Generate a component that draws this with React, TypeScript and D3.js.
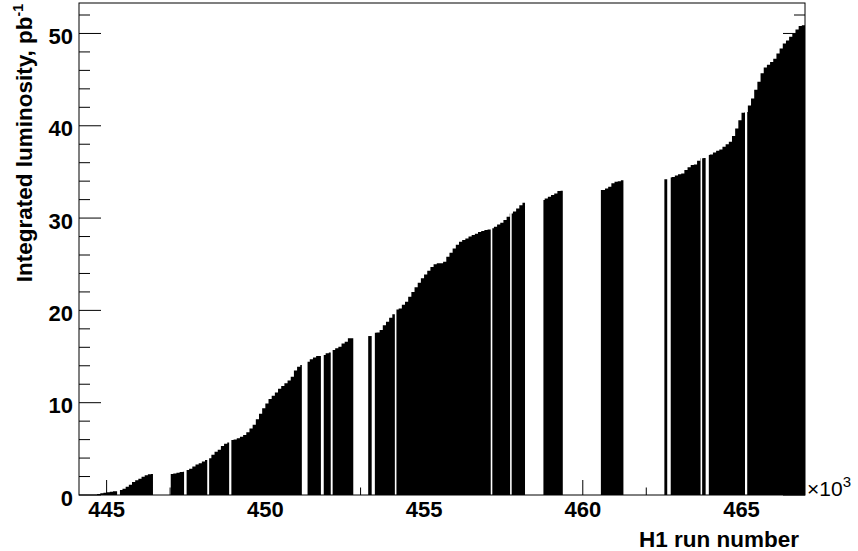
import React from 'react';
import * as d3 from 'd3';

// ---- data ----
const binStart = 444.1; // thousands of runs
const binWidth = 0.1;   // 100 runs per bin
const lumi: number[] = [
  0, 0, 0, 0, 0, 0, 0.12, 0.18, 0.25, 0.3, 0.36, 0.4, 0.4, 0.54, 0.69, 0.9, 1.12, 1.4, 1.6, 1.77,
  1.98, 2.15, 2.25, 2.27, 0, 0, 0, 0, 0, 2.27, 2.33, 2.42, 2.5, 2.53, 2.71, 2.85, 3.1, 3.3, 3.45, 3.62,
  3.79, 3.97, 4.35, 4.69, 4.9, 5.3, 5.55, 5.7, 5.96, 6.0, 6.14, 6.3, 6.5, 6.8, 7.2, 7.6, 8.2, 8.8, 9.4, 9.9,
  10.4, 10.75, 11.1, 11.5, 11.8, 12.1, 12.4, 12.8, 13.5, 13.9, 14.08, 0, 14.44, 14.7, 14.9, 15.05, 15.05, 15.16, 15.35, 15.45,
  15.7, 15.9, 16.06, 16.4, 16.6, 16.97, 16.97, 0, 0, 0, 0, 17.22, 17.22, 17.58, 17.6, 17.87, 18.4, 18.77, 19.2, 19.57,
  20.1, 20.2, 20.6, 20.94, 21.48, 22.0, 22.5, 23.0, 23.47, 23.9, 24.3, 24.7, 25.0, 25.1, 25.1, 25.27, 25.8, 26.25, 26.7, 27.1,
  27.43, 27.62, 27.8, 28.0, 28.16, 28.3, 28.5, 28.6, 28.7, 28.77, 28.9, 29.06, 29.3, 29.5, 29.78, 30.14, 30.5, 30.7, 31.05, 31.4,
  31.66, 0, 0, 0, 0, 0, 31.95, 32.13, 32.3, 32.5, 32.67, 32.93, 32.96, 0, 0, 0, 0, 0, 0, 0,
  0, 0, 0, 0, 33.03, 33.03, 33.2, 33.4, 33.76, 33.93, 34.0, 34.1, 0, 0, 0, 0, 0, 0, 0, 0,
  0, 0, 0, 0, 34.2, 34.2, 34.4, 34.45, 34.6, 34.75, 34.84, 35.2, 35.5, 35.74, 35.8, 36.2, 36.47, 36.5, 36.82, 36.9,
  37.1, 37.3, 37.44, 37.72, 38.0, 38.26, 38.9, 39.7, 40.6, 41.4, 41.5, 42.2, 42.96, 43.9, 44.76, 45.7, 46.3, 46.6, 46.9, 47.25,
  47.84, 48.38, 48.9, 49.25, 49.64, 50.0, 50.43, 50.8, 50.9,
];
// run ranges (thousands) without data
const noDataRuns: [number, number][] = [
  [445.33, 445.42], [446.46, 447.02], [447.44, 447.52], [448.17, 448.23], [448.86, 448.93],
  [451.15, 451.33], [451.75, 451.84], [452.06, 452.12], [452.77, 453.24], [453.35, 453.45],
  [454.08, 454.13], [457.10, 457.15], [457.71, 457.76], [458.18, 458.76], [459.37, 460.57],
  [461.28, 462.57], [462.66, 462.77], [463.71, 463.76], [463.87, 463.97], [465.11, 465.18],
];
const xMajorTicks = [445, 450, 455, 460, 465];
const xMinorTicks = [446, 447, 448, 449, 451, 452, 453, 454, 456, 457, 458, 459, 461, 462, 463, 464, 466];
const yMajorTicks = [0, 10, 20, 30, 40, 50];
const yMinorTicks = [2, 4, 6, 8, 12, 14, 16, 18, 22, 24, 26, 28, 32, 34, 36, 38, 42, 44, 46, 48, 52];
const xDomain: [number, number] = [444.13, 467.0];
const yDomain: [number, number] = [0, 53.3];

const W = 858, H = 551;
const L = 79, R = 805, T = 3, B = 495;
const FONT = "'Liberation Sans', Arial, Helvetica, sans-serif";

type Piece = { lo: number; hi: number; v: number };

function buildGroups(): Piece[][] {
  const pieces: Piece[] = [];
  lumi.forEach((v, i) => {
    if (v <= 0) return;
    let parts: [number, number][] = [[binStart + i * binWidth, binStart + (i + 1) * binWidth]];
    for (const [a, b] of noDataRuns) {
      const next: [number, number][] = [];
      for (const [lo, hi] of parts) {
        if (b <= lo || a >= hi) { next.push([lo, hi]); continue; }
        if (a > lo) next.push([lo, a]);
        if (b < hi) next.push([b, hi]);
      }
      parts = next;
    }
    parts.forEach(([lo, hi]) => pieces.push({ lo: Math.max(lo, xDomain[0]), hi: Math.min(hi, xDomain[1]), v }));
  });
  const groups: Piece[][] = [];
  for (const p of pieces) {
    if (p.hi <= p.lo) continue;
    const g = groups[groups.length - 1];
    if (g && Math.abs(g[g.length - 1].hi - p.lo) < 1e-9) g.push(p);
    else groups.push([p]);
  }
  return groups;
}

export default function App() {
  const xs = d3.scaleLinear().domain(xDomain).range([L, R]);
  const ys = d3.scaleLinear().domain(yDomain).range([B, T]);
  const area = d3.area<{ x: number; v: number }>()
    .x(d => xs(d.x))
    .y0(ys(0))
    .y1(d => ys(d.v))
    .curve(d3.curveStepAfter);
  const groups = buildGroups();

  return (
    <div style={{ position: 'absolute', left: 0, top: 0 }}>
      <svg width={W} height={H} style={{ display: 'block', background: '#fff' }} fontFamily={FONT}>
        <rect x={0} y={0} width={W} height={H} fill="#fff" />
        {groups.map((g, k) => {
          const pts = g.map(p => ({ x: p.lo, v: p.v }));
          pts.push({ x: g[g.length - 1].hi, v: g[g.length - 1].v });
          return <path key={k} d={area(pts) || ''} fill="#000" stroke="none" />;
        })}
        {/* x ticks */}
        {xMajorTicks.map(t => (
          <line key={'xM' + t} x1={xs(t)} x2={xs(t)} y1={B} y2={B - 15} stroke="#000" strokeWidth={1} />
        ))}
        {xMinorTicks.map(t => (
          <line key={'xm' + t} x1={xs(t)} x2={xs(t)} y1={B} y2={B - 7.5} stroke="#000" strokeWidth={1} />
        ))}
        {/* y ticks left and right */}
        {yMajorTicks.map(t => (
          <g key={'yM' + t}>
            <line x1={L} x2={L + 22} y1={ys(t)} y2={ys(t)} stroke="#000" strokeWidth={1} />
            <line x1={R} x2={R - 22} y1={ys(t)} y2={ys(t)} stroke="#000" strokeWidth={1} />
          </g>
        ))}
        {yMinorTicks.map(t => (
          <g key={'ym' + t}>
            <line x1={L} x2={L + 11} y1={ys(t)} y2={ys(t)} stroke="#000" strokeWidth={1} />
            <line x1={R} x2={R - 11} y1={ys(t)} y2={ys(t)} stroke="#000" strokeWidth={1} />
          </g>
        ))}
        {/* frame */}
        <rect x={L} y={T} width={R - L} height={B - T} fill="none" stroke="#000" strokeWidth={1} />
        {/* tick labels */}
        {xMajorTicks.map(t => (
          <text key={'xl' + t} x={xs(t)} y={517} textAnchor="middle" fontSize={22} fontWeight="bold">{t}</text>
        ))}
        {yMajorTicks.map(t => (
          <text key={'yl' + t} x={73} y={ys(t) + 10.5} textAnchor="end" fontSize={22} fontWeight="bold">{t}</text>
        ))}
        <text x={807} y={496} fontSize={21}>
          ×10<tspan dy={-9} fontSize={15}>3</tspan>
        </text>
        {/* axis titles */}
        <text x={799} y={546.5} textAnchor="end" fontSize={22.5} fontWeight="bold">H1 run number</text>
        <text transform={`translate(32, ${T + 1}) rotate(-90)`} textAnchor="end" fontSize={22.5} fontWeight="bold">
          Integrated luminosity, pb<tspan dy={-9} fontSize={14}>-1</tspan>
        </text>
      </svg>
    </div>
  );
}
